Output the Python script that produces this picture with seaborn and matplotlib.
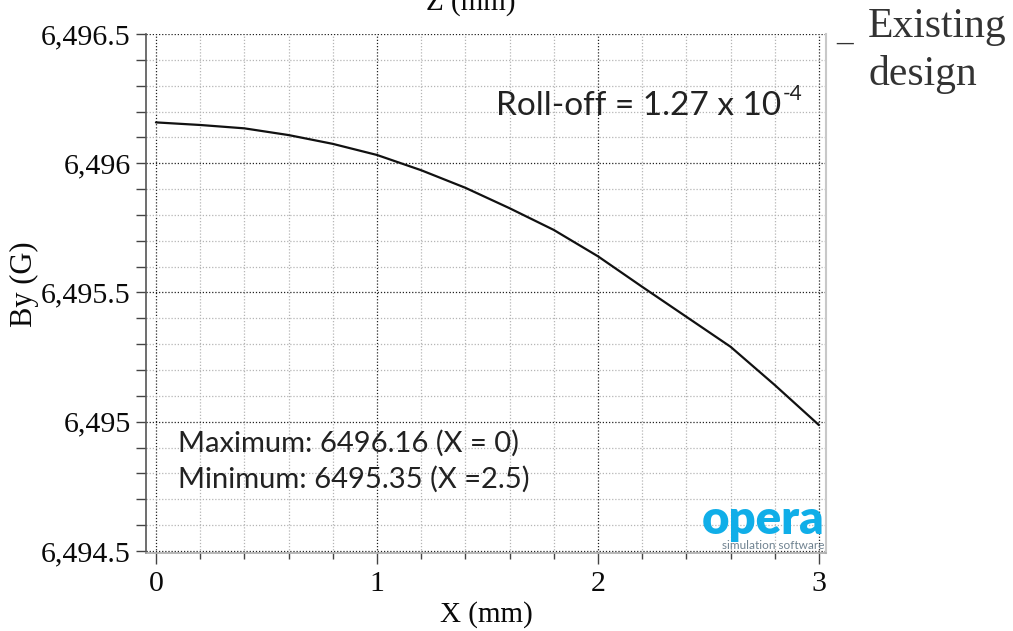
import matplotlib
matplotlib.use("Agg")
import matplotlib.pyplot as plt
import matplotlib.ticker as mticker
import seaborn as sns
import pandas as pd

# Data
x_mm = [0.0, 0.2, 0.4, 0.6, 0.8, 1.0, 1.2, 1.4, 1.6, 1.8, 2.0, 2.2, 2.4, 2.6, 2.8, 3.0]
by_g = [6496.158, 6496.148, 6496.135, 6496.109, 6496.075, 6496.032, 6495.973, 6495.905,
        6495.826, 6495.742, 6495.640, 6495.522, 6495.406, 6495.290, 6495.142, 6494.987]
x_ticks = [0, 1, 2, 3]
y_ticks = [6494.5, 6495.0, 6495.5, 6496.0, 6496.5]
note_rolloff = "Roll-off = 1.27 x 10"
note_exp = "-4"
note_max = "Maximum: 6496.16 (X = 0)"
note_min = "Minimum: 6495.35 (X =2.5)"

df = pd.DataFrame({"X": x_mm, "By": by_g})

sns.set_style("white")
plt.rcParams["font.family"] = ["Liberation Serif", "DejaVu Serif"]

fig = plt.figure(figsize=(10.13, 6.31), dpi=100)
ax = fig.add_axes([146 / 1013, 1 - 553 / 631, (826 - 146) / 1013, (553 - 34) / 631])

sns.lineplot(data=df, x="X", y="By", ax=ax, color="#111111", linewidth=1.6)

ax.set_xlim(-0.045, 3.032)
ax.set_ylim(6494.492, 6496.5)

ax.set_xticks(x_ticks)
ax.set_yticks(y_ticks)
ax.xaxis.set_minor_locator(mticker.MultipleLocator(0.2))
ax.yaxis.set_minor_locator(mticker.MultipleLocator(0.1))
ax.yaxis.set_major_formatter(mticker.FuncFormatter(lambda v, p: f"{v:,.1f}".rstrip("0").rstrip(".")))
ax.xaxis.set_major_formatter(mticker.FuncFormatter(lambda v, p: f"{v:g}"))

ax.grid(which="major", linestyle=(0, (1, 1.5)), color="#222222", linewidth=0.9)
ax.grid(which="minor", linestyle=(0, (1, 1.5)), color="#b5b5b5", linewidth=0.9)
ax.set_axisbelow(True)

ax.tick_params(axis="y", which="both", direction="out", length=7, width=1, color="#444444",
               labelsize=21.5, labelcolor="#0a0a0a", pad=4, left=True)
ax.tick_params(axis="x", which="major", direction="out", length=8, width=1, color="#444444",
               labelsize=21.5, labelcolor="#0a0a0a", pad=5, bottom=True)
ax.tick_params(axis="x", which="minor", direction="out", length=4, width=1, color="#444444",
               bottom=True)

ax.spines["top"].set_visible(False)
ax.spines["left"].set_color("#555555")
ax.spines["left"].set_linewidth(1.2)
ax.spines["bottom"].set_color("#aaaaaa")
ax.spines["bottom"].set_linewidth(1.2)
ax.spines["right"].set_color("#c8c8c8")
ax.spines["right"].set_linewidth(1.5)

ax.set_xlabel("X (mm)", fontsize=21, labelpad=3, color="#0a0a0a")
ax.set_ylabel("By (G)", fontsize=22, va="center", color="#0a0a0a")
ax.yaxis.set_label_coords((24 - 146) / 680, 1 - (284 - 34) / 519)

sans = ["Lato", "DejaVu Sans"]
t_roll = ax.text((496 - 146) / 680, 1 - (115 - 34) / 519, note_rolloff,
                 transform=ax.transAxes, fontsize=24, family=sans, color="#222222",
                 va="baseline", ha="left")
fig.canvas.draw()
bb = t_roll.get_window_extent(renderer=fig.canvas.get_renderer())
x_end = ax.transAxes.inverted().transform((bb.x1, bb.y1))[0]
ax.text(x_end + 0.002, 1 - (100 - 34) / 519, note_exp, transform=ax.transAxes,
        fontsize=15, family=sans, color="#222222", va="baseline", ha="left")
ax.text(0.047, 1 - (452 - 34) / 519, note_max, transform=ax.transAxes, fontsize=21, family=sans,
        color="#222222", va="baseline", ha="left")
ax.text(0.047, 1 - (488 - 34) / 519, note_min, transform=ax.transAxes, fontsize=21, family=sans,
        color="#222222", va="baseline", ha="left")

# opera logo
ax.text(0.998, 1 - (534 - 34) / 519, "opera", transform=ax.transAxes, fontsize=34, family=sans,
        fontweight="heavy", color="#10aee8", ha="right", va="baseline")
ax.text(0.998, 1 - (549 - 34) / 519, "simulation software", transform=ax.transAxes, fontsize=8.5,
        family=sans, color="#6f8290", ha="right", va="baseline")

# cut-off top label
fig.text(471 / 1013, 1 - 10 / 631, "Z (mm)", fontsize=21, ha="center", va="baseline",
         color="#0a0a0a")

# legend-like label on the right
fig.text(836 / 1013, 1 - 52 / 631, "\u2013", fontsize=24, color="#333333", ha="left", va="baseline")
fig.text(868 / 1013, 1 - 37 / 631, "Existing", fontsize=30, color="#333333", ha="left", va="baseline")
fig.text(868 / 1013, 1 - 85 / 631, "design", fontsize=30, color="#333333", ha="left", va="baseline")

fig.savefig("out.png", dpi=100)
